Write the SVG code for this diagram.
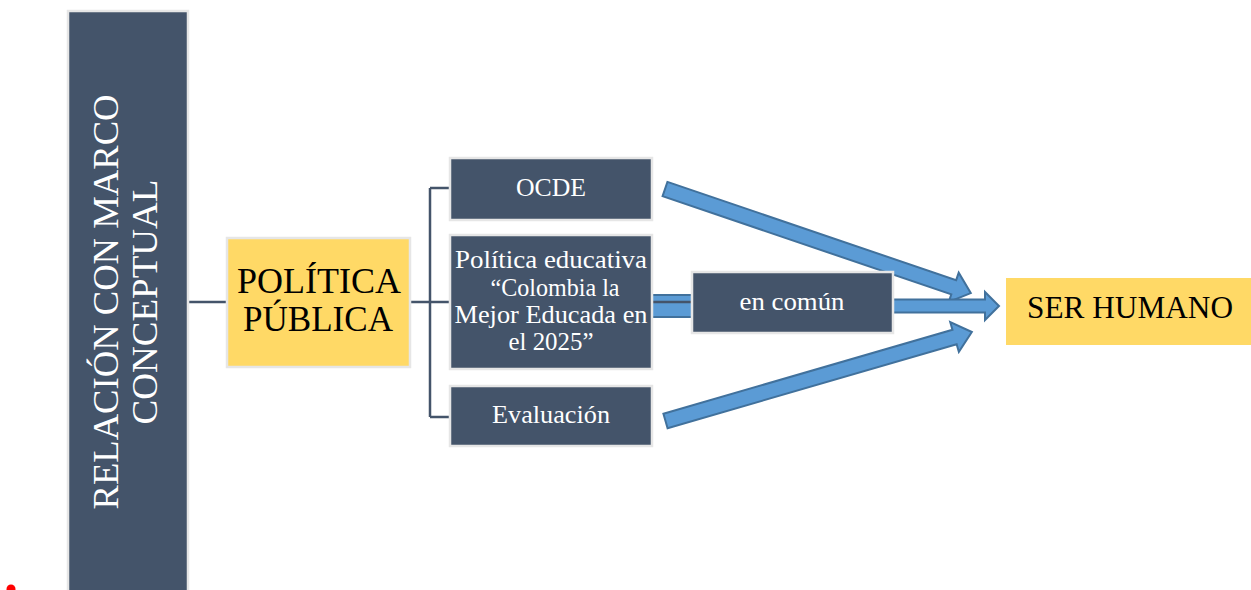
<svg xmlns="http://www.w3.org/2000/svg" width="1251" height="590" viewBox="0 0 1251 590">
<defs>
<style>
.dark{fill:#44546a;stroke:#e6e6e6;stroke-width:2.5}
.yel{fill:#ffd966;stroke:#e6e6e6;stroke-width:2.5}
text{font-family:'Liberation Serif','DejaVu Serif','Noto Serif',serif}
.wt{fill:#ffffff;text-anchor:middle}
.bt{fill:#000000;text-anchor:middle}
.conn{fill:none;stroke:#44546a;stroke-width:2.5}
.arr{fill:#5b9bd5;stroke:#41719c;stroke-width:2;stroke-linejoin:miter}
</style>
</defs>
<rect width="1251" height="590" fill="#ffffff"/>
<g id="connectors">
<path class="conn" d="M188,302 H227"/>
<path class="conn" d="M410,302 H450 M430,188 V417 M430,188 H450 M430,417 H450"/>
<rect class="arr" x="652" y="295" width="40" height="22" stroke-width="1.5"/>
<path class="conn" d="M652,302 H692"/>
<polygon class="arr" transform="translate(665,189) rotate(18.8)" points="0,-7.5 305,-7.5 305,-15.5 323,0 305,15.5 305,7.5 0,7.5"/>
<polygon class="arr" transform="translate(893,306) rotate(0)" points="0,-6.5 92,-6.5 92,-14 106,0 92,14 92,6.5 0,6.5"/>
<polygon class="arr" transform="translate(665.5,421) rotate(-16.2)" points="0,-7.5 301,-7.5 301,-15.5 319,0 301,15.5 301,7.5 0,7.5"/>
</g>
<g id="node-marco">
<rect class="dark" x="68" y="11" width="120" height="590"/>
<text class="wt" font-size="36" textLength="415" lengthAdjust="spacingAndGlyphs" transform="translate(118,302) rotate(-90)">RELACIÓN CON MARCO</text>
<text class="wt" font-size="36" textLength="245" lengthAdjust="spacingAndGlyphs" transform="translate(157,302) rotate(-90)">CONCEPTUAL</text>
</g>
<g id="node-politica-publica">
<rect class="yel" x="227" y="238" width="183" height="129"/>
<text class="bt" font-size="35" textLength="164" lengthAdjust="spacingAndGlyphs" x="319" y="293">POLÍTICA</text>
<text class="bt" font-size="35" textLength="150" lengthAdjust="spacingAndGlyphs" x="318" y="331">PÚBLICA</text>
</g>
<g id="node-ocde">
<rect class="dark" x="450" y="158" width="202" height="62"/>
<text class="wt" font-size="26" textLength="70" lengthAdjust="spacingAndGlyphs" x="551" y="196">OCDE</text>
</g>
<g id="node-politica-educativa">
<rect class="dark" x="450" y="235" width="202" height="134"/>
<text class="wt" font-size="26" textLength="192" lengthAdjust="spacingAndGlyphs" x="551" y="268">Política educativa</text>
<text class="wt" font-size="26" textLength="129" lengthAdjust="spacingAndGlyphs" x="555" y="296">“Colombia la</text>
<text class="wt" font-size="26" textLength="193" lengthAdjust="spacingAndGlyphs" x="551" y="323">Mejor Educada en</text>
<text class="wt" font-size="26" textLength="85" lengthAdjust="spacingAndGlyphs" x="551" y="350">el 2025”</text>
</g>
<g id="node-evaluacion">
<rect class="dark" x="450" y="386" width="202" height="60"/>
<text class="wt" font-size="26" textLength="118" lengthAdjust="spacingAndGlyphs" x="551" y="423">Evaluación</text>
</g>
<g id="node-en-comun">
<rect class="dark" x="692" y="272" width="201" height="61"/>
<text class="wt" font-size="26" textLength="105" lengthAdjust="spacingAndGlyphs" x="792" y="310">en común</text>
</g>
<g id="node-ser-humano">
<rect x="1006" y="278" width="250" height="67" fill="#ffd966"/>
<text class="bt" font-size="31" textLength="206" lengthAdjust="spacingAndGlyphs" x="1130" y="318">SER HUMANO</text>
</g>
<circle cx="11" cy="589" r="4.5" fill="#ff0000"/>
</svg>
